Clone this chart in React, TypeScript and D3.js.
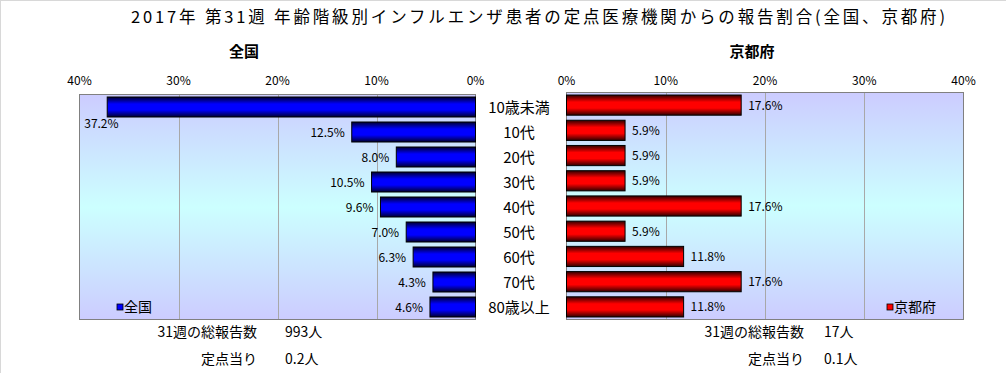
import React from "react";
import * as d3 from "d3";

const categories = ["10歳未満", "10代", "20代", "30代", "40代", "50代", "60代", "70代", "80歳以上"];
const nationalValues = [37.2, 12.5, 8.0, 10.5, 9.6, 7.0, 6.3, 4.3, 4.6];
const kyotoValues = [17.6, 5.9, 5.9, 5.9, 17.6, 5.9, 11.8, 17.6, 11.8];
const tickValues = [0, 10, 20, 30, 40];
const title = "2017年 第31週 年齢階級別インフルエンザ患者の定点医療機関からの報告割合(全国、京都府)";
const nationalName = "全国";
const kyotoName = "京都府";
const nationalFooter = [["31週の総報告数", "993人"], ["定点当り", "0.2人"]];
const kyotoFooter = [["31週の総報告数", "17人"], ["定点当り", "0.1人"]];

const FONT = "'Noto Sans CJK JP', 'Noto Sans', sans-serif";

export default function App() {
  const xL = d3.scaleLinear().domain([0, 40]).range([475.5, 79.5]);
  const xR = d3.scaleLinear().domain([0, 40]).range([566.5, 963.5]);
  const yL = d3.scaleBand<string>().domain(categories).range([94.5, 319.5]).paddingInner(0.2).paddingOuter(0.1);
  const yR = d3.scaleBand<string>().domain(categories).range([92.5, 319.5]).paddingInner(0.2).paddingOuter(0.1);
  const fmt = (v: number) => v.toFixed(1) + "%";

  return (
    <svg width={1006} height={373} style={{ position: "absolute", left: 0, top: 0, background: "#fff" }} fontFamily={FONT}>
      <defs>
        <linearGradient id="bg" x1="0" y1="0" x2="0" y2="1">
          <stop offset="0" stopColor="#ccccff" />
          <stop offset="0.5" stopColor="#ccffff" />
          <stop offset="1" stopColor="#ccccff" />
        </linearGradient>
        <linearGradient id="blueG" x1="0" y1="0" x2="0" y2="1">
          <stop offset="0" stopColor="#000030" />
          <stop offset="0.35" stopColor="#0000ff" />
          <stop offset="0.65" stopColor="#0000ff" />
          <stop offset="1" stopColor="#000030" />
        </linearGradient>
        <linearGradient id="redG" x1="0" y1="0" x2="0" y2="1">
          <stop offset="0" stopColor="#300000" />
          <stop offset="0.35" stopColor="#ff0000" />
          <stop offset="0.65" stopColor="#ff0000" />
          <stop offset="1" stopColor="#300000" />
        </linearGradient>
      </defs>
      <line x1={0.5} y1={0} x2={0.5} y2={373} stroke="#d8d8d8" />
      <line x1={0} y1={0.5} x2={1006} y2={0.5} stroke="#d8d8d8" />

      <text x={538} y={23} textAnchor="middle" fontSize={16.5} textLength={814} lengthAdjust="spacing">{title}</text>
      <text x={244} y={57} textAnchor="middle" fontSize={15} fontWeight="bold">{nationalName}</text>
      <text x={752} y={57} textAnchor="middle" fontSize={15} fontWeight="bold">{kyotoName}</text>

      {/* Left panel */}
      <rect x={xL(40)} y={yL.range()[0]} width={xL(0) - xL(40)} height={yL.range()[1] - yL.range()[0]} fill="url(#bg)" />
      {tickValues.slice(1, -1).map((t) => (
        <line key={"gl" + t} x1={Math.round(xL(t)) + 0.5} x2={Math.round(xL(t)) + 0.5} y1={yL.range()[0]} y2={yL.range()[1]} stroke="#a8a8a8" />
      ))}
      <rect x={xL(40)} y={yL.range()[0]} width={xL(0) - xL(40)} height={yL.range()[1] - yL.range()[0]} fill="none" stroke="#808080" />
      {tickValues.map((t) => (
        <text key={"tl" + t} x={xL(t)} y={85} textAnchor="middle" fontSize={12}>{t + "%"}</text>
      ))}
      {categories.map((c, i) => {
        const v = nationalValues[i];
        const y = yL(c)!;
        const h = yL.bandwidth();
        const big = v > 35;
        return (
          <g key={"bl" + c}>
            <rect x={xL(v)} y={y} width={xL(0) - xL(v)} height={h} fill="url(#blueG)" stroke="#000" strokeWidth={1} />
            {big ? (
              <text x={xL(v) - 23} y={y + h + 11} fontSize={12}>{fmt(v)}</text>
            ) : (
              <text x={xL(v) - 7} y={y + h / 2 + 4.5} textAnchor="end" fontSize={12}>{fmt(v)}</text>
            )}
          </g>
        );
      })}
      <rect x={117} y={304} width={6} height={6} fill="#0000ff" stroke="#000" strokeWidth={0.8} />
      <text x={124} y={311.5} fontSize={14}>{nationalName}</text>

      {/* Category labels */}
      {categories.map((c) => (
        <text key={"cat" + c} x={519} y={yL(c)! + yL.bandwidth() / 2 + 5.5} textAnchor="middle" fontSize={15}>{c}</text>
      ))}

      {/* Right panel */}
      <rect x={xR(0)} y={yR.range()[0]} width={xR(40) - xR(0)} height={yR.range()[1] - yR.range()[0]} fill="url(#bg)" />
      {tickValues.slice(1, -1).map((t) => (
        <line key={"gr" + t} x1={Math.round(xR(t)) + 0.5} x2={Math.round(xR(t)) + 0.5} y1={yR.range()[0]} y2={yR.range()[1]} stroke="#a8a8a8" />
      ))}
      <rect x={xR(0)} y={yR.range()[0]} width={xR(40) - xR(0)} height={yR.range()[1] - yR.range()[0]} fill="none" stroke="#808080" />
      {tickValues.map((t) => (
        <text key={"tr" + t} x={xR(t)} y={85} textAnchor="middle" fontSize={12}>{t + "%"}</text>
      ))}
      {categories.map((c, i) => {
        const v = kyotoValues[i];
        const y = yR(c)!;
        const h = yR.bandwidth();
        return (
          <g key={"br" + c}>
            <rect x={xR(0)} y={y} width={xR(v) - xR(0)} height={h} fill="url(#redG)" stroke="#000" strokeWidth={1} />
            <text x={xR(v) + 7} y={y + h / 2 + 4.5} fontSize={12}>{fmt(v)}</text>
          </g>
        );
      })}
      <rect x={887} y={304} width={6} height={6} fill="#ff0000" stroke="#000" strokeWidth={0.8} />
      <text x={894} y={311.5} fontSize={14}>{kyotoName}</text>

      {/* Footers */}
      {nationalFooter.map((r, i) => (
        <g key={"fn" + i}>
          <text x={257} y={337 + i * 27} textAnchor="end" fontSize={14}>{r[0]}</text>
          <text x={285} y={337 + i * 27} fontSize={14}>{r[1]}</text>
        </g>
      ))}
      {kyotoFooter.map((r, i) => (
        <g key={"fk" + i}>
          <text x={804} y={337 + i * 27} textAnchor="end" fontSize={14}>{r[0]}</text>
          <text x={824} y={337 + i * 27} fontSize={14}>{r[1]}</text>
        </g>
      ))}
    </svg>
  );
}
